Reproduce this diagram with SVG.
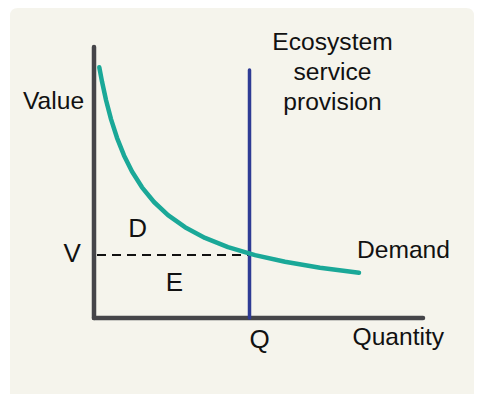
<svg xmlns="http://www.w3.org/2000/svg" width="483" height="394" viewBox="0 0 483 394">
<style>
text{font-family:"Liberation Sans",Arial,sans-serif;fill:#111;}
.lbl{font-size:24.6px;}
.big{font-size:26px;}
.axis{stroke:#454549;stroke-width:4.5;stroke-linecap:round;fill:none;}
</style>
<rect width="483" height="394" fill="#ffffff"/>
<path d="M10,394 V16 Q10,8 18,8 H466 Q474,8 474,16 V394 Z" fill="#f5f4ec"/>
<g id="connectors">
<line id="dashed-v" x1="97" y1="255" x2="249" y2="255" stroke="#111" stroke-width="2" stroke-dasharray="9 6"/>
<line id="y-axis" class="axis" x1="94" y1="47" x2="94" y2="318"/>
<line id="x-axis" class="axis" x1="94" y1="318" x2="423" y2="318"/>
<line id="supply" x1="249.5" y1="70" x2="249.5" y2="318" stroke="#2e3b94" stroke-width="3.5" stroke-linecap="round"/>
<path id="demand-curve" d="M99.3,67.3 L102,81.6 L106,100 L111,119.1 L117,137.8 L124,155.4 L132,171.5 L142,187.3 L154,202 L168,215.2 L185,227.2 L205,237.9 L228,247.1 L255,255.1 L285,261.8 L320,267.7 L359,272.7" fill="none" stroke="#1aa898" stroke-width="4.5" stroke-linecap="round" stroke-linejoin="round"/>
</g>
<g id="label-value"><text class="lbl" x="23" y="109">Value</text></g>
<g id="label-ecosystem"><text class="lbl" x="332.5" y="50" text-anchor="middle">Ecosystem</text><text class="lbl" x="332.5" y="80" text-anchor="middle">service</text><text class="lbl" x="332.5" y="110" text-anchor="middle">provision</text></g>
<g id="label-demand"><text class="lbl" x="357" y="258.3">Demand</text></g>
<g id="label-quantity"><text class="lbl" x="352.5" y="345">Quantity</text></g>
<g id="label-D"><text class="big" x="128.3" y="236.7">D</text></g>
<g id="label-E"><text class="big" x="165.7" y="290.7">E</text></g>
<g id="label-V"><text class="big" x="63.5" y="261.7">V</text></g>
<g id="label-Q"><text class="big" x="249.5" y="348">Q</text></g>
</svg>
